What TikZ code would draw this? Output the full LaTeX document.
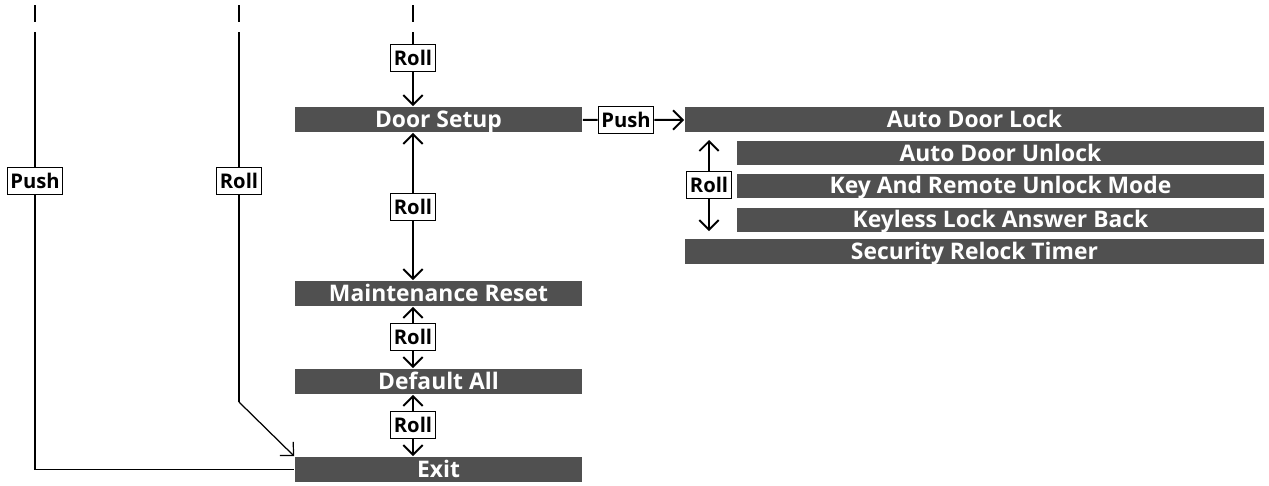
\documentclass[tikz,border=0pt]{standalone}
\usepackage{fontspec}
\setmainfont{Open Sans}
\usetikzlibrary{arrows.meta}
\definecolor{barfill}{HTML}{505050}
\tikzset{
  bar/.style={fill=barfill,text=white,font=\bfseries\fontsize{13}{15}\selectfont,
    minimum height=0.5cm,inner sep=0pt,text height=11pt,text depth=1.7pt},
  wide/.style={bar,minimum width=5.74cm},
  subbar/.style={bar,minimum width=10.54cm,minimum height=0.48cm},
  tag/.style={draw,fill=white,line width=0.6pt,font=\bfseries\fontsize{11.5}{13}\selectfont,
    inner sep=1.8pt,minimum height=0.49cm,text height=10pt,text depth=1.8pt},
}
\begin{document}
\begin{tikzpicture}[x=0.02cm,y=-0.02cm,line width=1.1pt,>={Straight Barb[length=5.5pt,width=11pt]}]
\useasboundingbox (0,0) rectangle (1269,485);
% main menu column
\node[wide] (door) at (438.5,119.5) {Door Setup};
\node[wide] (maint) at (438.5,293.5) {Maintenance Reset};
\node[wide] (defall) at (438.5,381.5) {Default All};
\node[wide] (exit) at (438.5,469.5) {Exit};
% door setup submenu
\node[bar,minimum width=11.58cm] (autolock) at (974.5,119.5) {Auto Door Lock};
\node[subbar] (autounlock) at (1000.5,153) {Auto Door Unlock};
\node[subbar] (keyremote) at (1000.5,185.5) {Key And Remote Unlock Mode};
\node[subbar] (keyless) at (1000.5,219.5) {Keyless Lock Answer Back};
\node[bar,minimum width=11.58cm] (relock) at (974.5,251.5) {Security Relock Timer};
% button tags
\node[tag] (rolltop) at (413,58) {Roll};
\node[tag] (rolla) at (413,207) {Roll};
\node[tag] (rollb) at (413,337) {Roll};
\node[tag] (rollc) at (413,425) {Roll};
\node[tag] (rollleft) at (239,181) {Roll};
\node[tag] (pushleft) at (35,181) {Push};
\node[tag] (pushright) at (626,120) {Push};
\node[tag] (rollright) at (709,185) {Roll};
% incoming lines from above
\foreach \x in {35,239,413} \draw (\x,5) -- (\x,22);
\coordinate (intop) at (413,32);
\coordinate (inmid) at (239,32);
\coordinate (inleft) at (35,32);
\coordinate (bend) at (239,402);
\draw (intop) -- (rolltop);
\draw[->] (rolltop) -- (rolltop |- door.north);
\draw[->] (rolla) -- (rolla |- door.south);
\draw[->] (rolla) -- (rolla |- maint.north);
\draw[->] (rollb) -- (rollb |- maint.south);
\draw[->] (rollb) -- (rollb |- defall.north);
\draw[->] (rollc) -- (rollc |- defall.south);
\draw[->] (rollc) -- (rollc |- exit.north);
% push and roll to exit
\draw (inleft) -- (pushleft);
\draw (pushleft) |- (exit);
\draw (inmid) -- (rollleft);
\draw (rollleft) -- (bend);
\draw[->,line width=0.7pt] (bend) -- (exit.north west);
% into the submenu
\draw (door) -- (pushright);
\draw[->] (pushright) -- (autolock);
\draw[->,shorten >=4pt] (rollright) -- (rollright |- autolock.south);
\draw[->,shorten >=4pt] (rollright) -- (rollright |- relock.north);
\end{tikzpicture}
\end{document}
